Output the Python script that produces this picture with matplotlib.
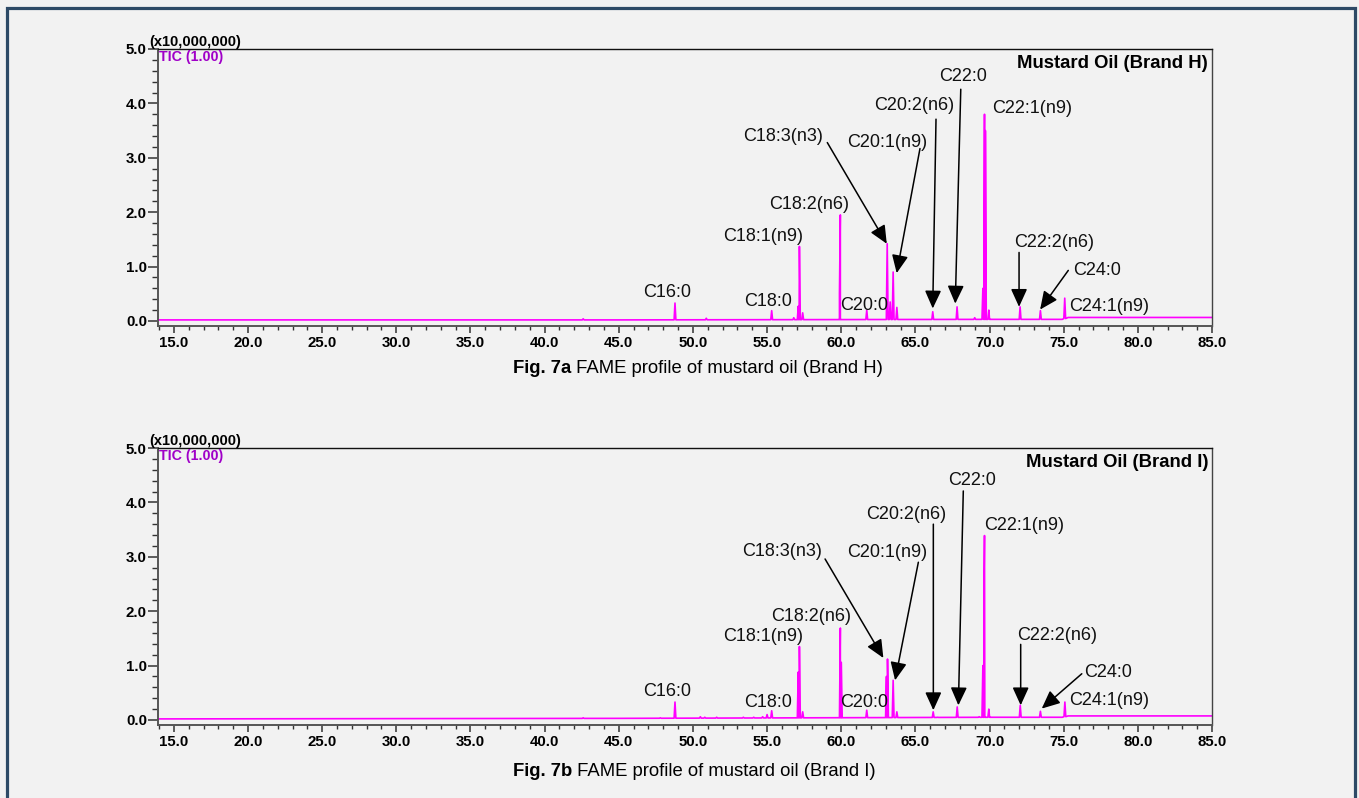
import numpy as np
import matplotlib
matplotlib.use('Agg')
import matplotlib.pyplot as plt
from matplotlib.patches import Rectangle
from matplotlib.ticker import MultipleLocator, FormatStrFormatter

plt.rcParams['font.family'] = ['Liberation Sans', 'DejaVu Sans']

W, H = 1359, 798

# peaks: retention time (min), apex intensity (x10,000,000)
rt_H = [42.6, 48.79, 50.9, 55.31, 56.8, 57.1, 57.18, 57.4, 59.88, 59.94, 61.72,
        63.1, 63.3, 63.5, 63.75, 66.17, 67.81, 69.0, 69.55, 69.66, 69.72, 69.95,
        72.06, 73.43, 75.07]
ht_H = [0.04, 0.33, 0.05, 0.19, 0.06, 0.27, 1.37, 0.15, 0.5, 1.95, 0.2,
        1.42, 0.35, 0.9, 0.25, 0.17, 0.26, 0.06, 0.6, 3.80, 3.5, 0.2,
        0.26, 0.19, 0.42]

rt_I = [42.6, 47.8, 48.79, 50.5, 50.8, 51.6, 53.4, 54.1, 54.7, 55.0, 55.31,
        57.1, 57.18, 57.4, 59.94, 60.0, 61.72, 63.05, 63.12, 63.5, 63.75,
        66.2, 66.5, 67.82, 69.3, 69.55, 69.62, 69.66, 69.95, 72.07, 73.43,
        73.9, 75.08]
ht_I = [0.04, 0.04, 0.33, 0.06, 0.05, 0.05, 0.05, 0.05, 0.06, 0.1, 0.17,
        0.88, 1.35, 0.15, 1.69, 1.06, 0.18, 0.8, 1.12, 0.73, 0.15,
        0.15, 0.05, 0.24, 0.06, 1.0, 2.36, 3.39, 0.2, 0.27, 0.16,
        0.05, 0.33]

# baseline drift
base_rt = [13.9, 45.0, 70.0, 74.9, 75.3, 85.0]
base_H = [0.02, 0.02, 0.03, 0.03, 0.065, 0.065]
base_I = [0.02, 0.03, 0.05, 0.05, 0.075, 0.075]

# peak labels
labels = ['C16:0', 'C18:0', 'C18:1(n9)', 'C18:2(n6)', 'C20:0', 'C18:3(n3)',
          'C20:1(n9)', 'C20:2(n6)', 'C22:0', 'C22:1(n9)', 'C22:2(n6)',
          'C24:0', 'C24:1(n9)']
nan = np.nan
txt_x_H = [48.25, 55.04, 54.71, 57.83, 61.56, 56.08, 63.09, 64.91, 68.23, 72.89, 74.35, 77.23, 78.08]
txt_y_H = [0.53, 0.35, 1.56, 2.14, 0.29, 3.39, 3.28, 3.96, 4.49, 3.90, 1.44, 0.93, 0.26]
arr_x0_H = [nan, nan, nan, nan, nan, 59.06, 65.31, 66.39, 68.06, nan, 71.99, 75.31, nan]
arr_y0_H = [nan, nan, nan, nan, nan, 3.28, 3.17, 3.71, 4.26, nan, 1.26, 0.93, nan]
arr_x1_H = [nan, nan, nan, nan, nan, 63.07, 63.74, 66.17, 67.69, nan, 71.99, 73.41, nan]
arr_y1_H = [nan, nan, nan, nan, nan, 1.42, 0.88, 0.23, 0.32, nan, 0.26, 0.21, nan]

txt_x_I = [48.27, 55.04, 54.70, 57.96, 61.56, 55.99, 63.07, 64.37, 68.80, 72.33, 74.53, 78.01, 78.08]
txt_y_I = [0.53, 0.32, 1.53, 1.90, 0.32, 3.09, 3.08, 3.78, 4.41, 3.58, 1.56, 0.87, 0.35]
arr_x0_I = [nan, nan, nan, nan, nan, 58.91, 65.20, 66.21, 68.23, nan, 72.10, 76.22, nan]
arr_y0_I = [nan, nan, nan, nan, nan, 2.96, 2.90, 3.60, 4.21, nan, 1.39, 0.85, nan]
arr_x1_I = [nan, nan, nan, nan, nan, 62.84, 63.63, 66.21, 67.90, nan, 72.10, 73.52, nan]
arr_y1_I = [nan, nan, nan, nan, nan, 1.14, 0.73, 0.18, 0.27, nan, 0.27, 0.21, nan]

titles = ['Mustard Oil (Brand H)', 'Mustard Oil (Brand I)']
fig_ids = ['7a', '7b']
brands = ['H', 'I']


def px(x, y):
    return x / W, 1 - y / H


def trace(rt, ht, blvl):
    w = 0.06
    xs = list(base_rt)
    ys = list(blvl)
    for r, h in zip(rt, ht):
        b = np.interp(r, base_rt, blvl)
        xs += [r - w, r, r + w]
        ys += [b, h, b]
    order = np.argsort(xs, kind='stable')
    return np.array(xs)[order], np.array(ys)[order]


def draw_panel(ax, rt, ht, blvl, tx, ty, ax0, ay0, ax1, ay1):
    x, y = trace(rt, ht, blvl)
    ax.plot(x, y, color='#ff00ff', lw=1.2)
    ax.set_xlim(13.93, 85.0)
    ax.set_ylim(-0.092, 5.0)
    ax.set_facecolor('#f2f2f2')
    ax.xaxis.set_major_locator(MultipleLocator(5))
    ax.xaxis.set_minor_locator(MultipleLocator(1))
    ax.yaxis.set_major_locator(MultipleLocator(1))
    ax.yaxis.set_minor_locator(MultipleLocator(0.2))
    ax.xaxis.set_major_formatter(FormatStrFormatter('%.1f'))
    ax.yaxis.set_major_formatter(FormatStrFormatter('%.1f'))
    ax.tick_params(axis='x', which='major', length=5, width=1.1, color='#333333', pad=2)
    ax.tick_params(axis='x', which='minor', length=3, width=1.0, color='#333333')
    ax.tick_params(axis='y', which='major', length=7.5, width=1.1, color='#333333', pad=0.5)
    ax.tick_params(axis='y', which='minor', length=4, width=1.0, color='#333333')
    for lab in ax.get_xticklabels() + ax.get_yticklabels():
        lab.set_fontweight('bold')
        lab.set_fontsize(10.8)
    ax.spines['left'].set_color('#555555')
    ax.spines['left'].set_linewidth(1.4)
    ax.spines['bottom'].set_color('#555555')
    ax.spines['bottom'].set_linewidth(1.4)
    ax.spines['top'].set_color('#111111')
    ax.spines['top'].set_linewidth(1.0)
    ax.spines['right'].set_color('#444444')
    ax.spines['right'].set_linewidth(1.0)
    for i in range(len(labels)):
        ax.text(tx[i], ty[i], labels[i], fontsize=13, ha='center', va='center', color='#111111')
        if not np.isnan(ax0[i]):
            ax.annotate('', xy=(ax1[i], ay1[i]), xytext=(ax0[i], ay0[i]),
                        arrowprops=dict(arrowstyle='-|>,head_length=0.55,head_width=0.25',
                                        color='black', lw=1.1, mutation_scale=20,
                                        shrinkA=0, shrinkB=0))


fig = plt.figure(figsize=(W / 100, H / 100), dpi=100, facecolor='#f2f2f2')

ax1 = fig.add_axes([158 / W, 1 - 326 / H, (1212 - 158) / W, 277 / H])
draw_panel(ax1, rt_H, ht_H, base_H, txt_x_H, txt_y_H, arr_x0_H, arr_y0_H, arr_x1_H, arr_y1_H)
ax2 = fig.add_axes([158 / W, 1 - 725 / H, (1212 - 158) / W, 277 / H])
draw_panel(ax2, rt_I, ht_I, base_I, txt_x_I, txt_y_I, arr_x0_I, arr_y0_I, arr_x1_I, arr_y1_I)

for k, dy in enumerate([0, 399]):
    fig.text(*px(149, 41.7 + dy), '(x10,000,000)', fontsize=10.5, fontweight='bold',
             ha='left', va='center')
    fig.text(*px(159, 57.3 + dy), 'TIC (1.00)', fontsize=10.3, fontweight='bold',
             ha='left', va='center', color='#a000c8')
    fig.text(*px(1208, 63.3 + dy), titles[k], fontsize=13.3, fontweight='bold',
             ha='right', va='center')

# captions: bold figure number followed by regular text
for k, cy in enumerate([369, 772]):
    t1 = fig.text(*px(513, cy), 'Fig. ' + fig_ids[k], fontsize=13.3, fontweight='bold',
                  ha='left', va='center')
    ax1.annotate(' FAME profile of mustard oil (Brand ' + brands[k] + ')',
                 xy=(1, 0), xycoords=t1, ha='left', va='bottom', fontsize=13.3,
                 annotation_clip=False)

# outer frame
fig.add_artist(Rectangle(px(7, 850), (1355 - 7) / W, 842 / H, transform=fig.transFigure,
                         fill=False, edgecolor='#2d4a66', lw=2.3))

plt.savefig('out.png', dpi=100, facecolor=fig.get_facecolor())
